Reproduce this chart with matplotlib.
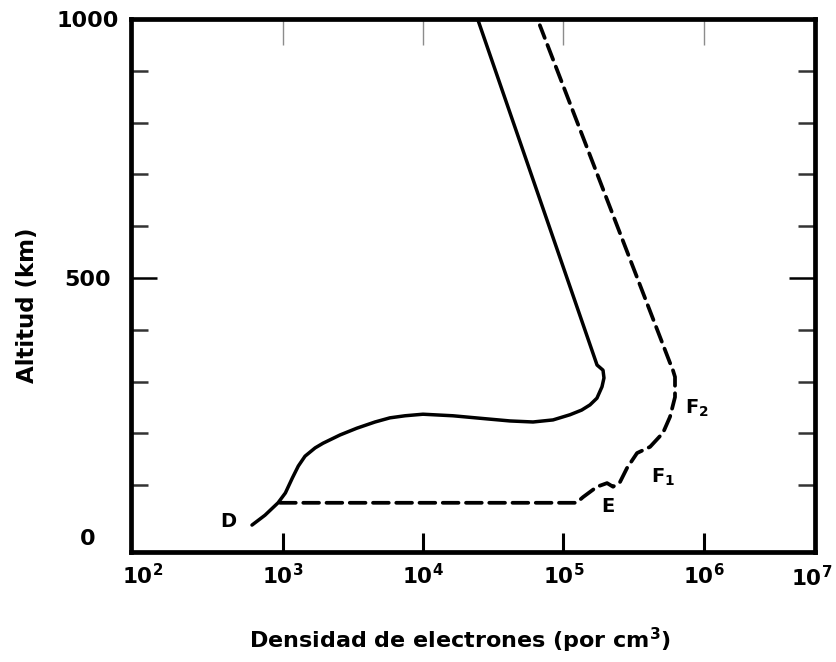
import numpy as np
import matplotlib
matplotlib.use('Agg')
import matplotlib.pyplot as plt
from matplotlib.transforms import blended_transform_factory

# densidad de electrones (por cm3) y altitud (km)
noche_dens = [603, 746, 925, 1043, 1170, 1290, 1440, 1700, 1935, 2560,
              3370, 4540, 5800, 7430, 9980, 16300, 28500, 41600, 60700, 84300,
              111400, 134900, 154600, 173300, 188300, 194500, 191500, 173600, 24600]
noche_alt = [23, 42, 66, 85, 114, 137, 156, 172, 181, 197,
             210, 222, 230, 234, 237, 234, 228, 224, 222, 226,
             236, 245, 255, 268, 290, 307, 322, 332, 998]

dia_dens = [955, 123900, 138000, 173500, 204600, 225800, 253000, 283800,
            334700, 414400, 512500, 575000, 624000, 624000, 600000, 575000, 67900]
dia_alt = [66, 66, 77, 97, 104, 97, 106, 133,
           162, 174, 201, 232, 270, 309, 324, 336, 988]

capas = ['D', 'E', 'F$_\\mathbf{1}$', 'F$_\\mathbf{2}$']
capas_dens = [406, 208000, 513000, 895000]
capas_alt = [29, 58, 116, 249]

xtick_vals = [1e2, 1e3, 1e4, 1e5, 1e6]
xtick_labels = [r'$\mathbf{10^{2}}$', r'$\mathbf{10^{3}}$', r'$\mathbf{10^{4}}$',
                r'$\mathbf{10^{5}}$', r'$\mathbf{10^{6}}$']

plt.rcParams['font.family'] = 'DejaVu Sans'
plt.rcParams['mathtext.fontset'] = 'dejavusans'

fig = plt.figure(figsize=(8.36, 6.62), dpi=100)
ax = fig.add_axes([131 / 836, 1 - 552 / 662, 684 / 836, 533 / 662])

ax.plot(noche_dens, noche_alt, color='black', lw=2.5, solid_capstyle='round',
        solid_joinstyle='round')
ax.plot(dia_dens, dia_alt, color='black', lw=2.7, dashes=(4.2, 2.0),
        dash_capstyle='round', dash_joinstyle='round')

for t, xv, yv in zip(capas, capas_dens, capas_alt):
    ax.text(xv, yv, t, fontsize=14, fontweight='bold', ha='center', va='center')

ax.set_xscale('log')
ax.set_xlim(10 ** 1.918, 10 ** 6.793)
ax.set_ylim(-29, 1000)

for s in ax.spines.values():
    s.set_linewidth(3.4)

# eje x
ax.set_xticks(xtick_vals)
ax.set_xticklabels(xtick_labels, fontsize=15.5)
ax.xaxis.set_minor_locator(matplotlib.ticker.NullLocator())
ax.tick_params(axis='x', direction='in', length=13.5, width=2.2, pad=8)
ax.xaxis.get_major_ticks()[0].tick1line.set_visible(False)
tr = blended_transform_factory(ax.transAxes, ax.transAxes)
ax.text(0.995, -0.0475, r'$\mathbf{10^{7}}$', transform=tr, fontsize=15.5,
        ha='center', va='center')

top = ax.secondary_xaxis('top')
top.set_xticks([1e3, 1e4, 1e5, 1e6])
top.xaxis.set_minor_locator(matplotlib.ticker.NullLocator())
top.tick_params(direction='in', length=19, width=1.0, color='0.55', labeltop=False)
top.spines['top'].set_visible(False)

# eje y
ax.set_yticks([0, 500, 1000])
ax.set_yticklabels(['0', '500', '1000'], fontsize=16, fontweight='bold')
ax.set_yticks(np.arange(100, 1000, 100), minor=True)
ax.tick_params(axis='y', which='major', direction='in', length=19, width=1.8,
               pad=31.5, left=True, right=True)
ax.tick_params(axis='y', which='minor', direction='in', length=12, width=1.8,
               left=True, right=True, color='0.2')
for lab in ax.get_yticklabels():
    lab.set_ha('center')
for i in (0, 2):
    tk = ax.yaxis.get_major_ticks()[i]
    tk.tick1line.set_visible(False)
    tk.tick2line.set_visible(False)

ax.set_xlabel(r'Densidad de electrones (por cm$^\mathbf{3}$)', fontsize=16,
              fontweight='bold')
ax.xaxis.set_label_coords(0.481, -0.165)
ax.xaxis.label.set_va('center')
ax.set_ylabel('Altitud (km)', fontsize=16.5, fontweight='bold')
ax.yaxis.set_label_coords(-0.151, 0.463)
ax.yaxis.label.set_va('center')

fig.savefig('out.png', dpi=100)
